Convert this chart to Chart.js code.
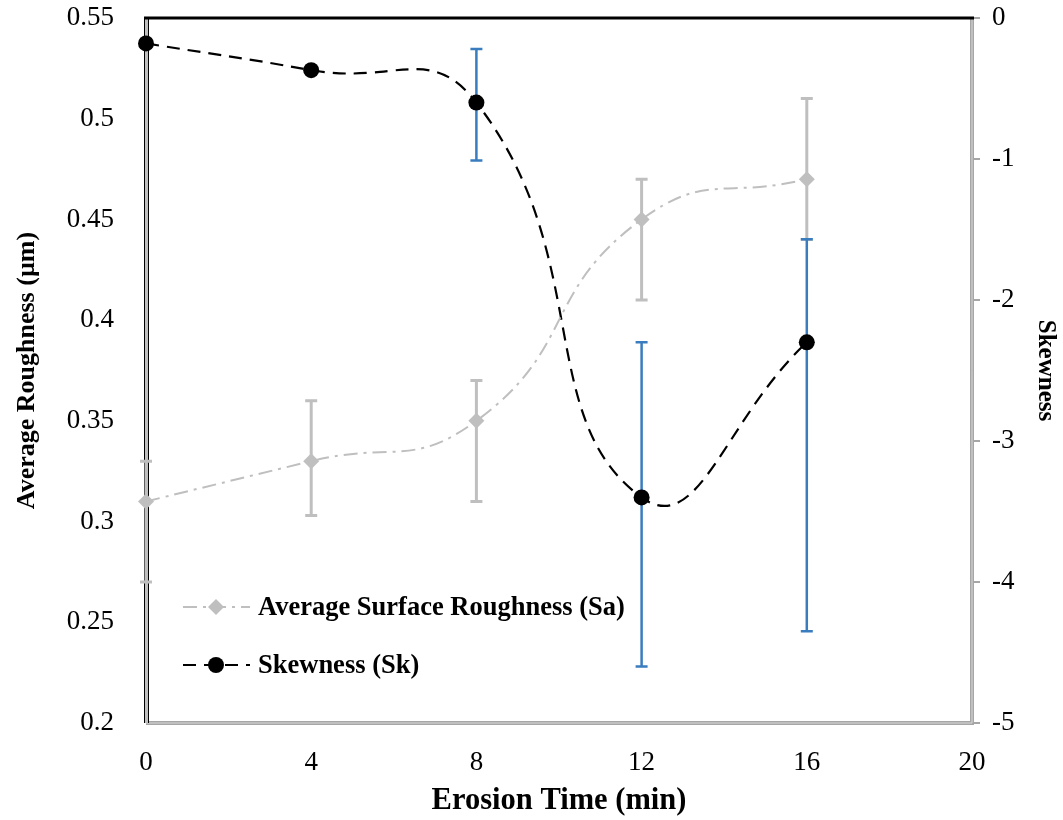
<!DOCTYPE html>
<html>
<head>
<meta charset="utf-8">
<script src="https://cdn.jsdelivr.net/npm/chart.js@4.4.1/dist/chart.umd.min.js"></script>
<style>
  html, body { margin: 0; padding: 0; background: #fff; }
</style>
</head>
<body>
<canvas id="roughChart" width="1063" height="820"></canvas>
<script>
'use strict'

// erosion time (min)
const times = [0, 4, 8, 12, 16];
// average surface roughness Sa (um) and the ends of its error bars
const roughness = [0.31, 0.33, 0.35, 0.45, 0.47];
const roughnessHigh = [0.33, 0.36, 0.37, 0.47, 0.51];
const roughnessLow = [0.27, 0.303, 0.31, 0.41, 0.44];
// skewness Sk and the ends of its error bars
const skewness = [-0.18, -0.37, -0.60, -3.40, -2.30];
const skewnessHigh = [-0.15, -0.35, -0.22, -2.30, -1.57];
const skewnessLow = [-0.21, -0.39, -1.01, -4.60, -4.35];
// tick labels
const timeTicks = [0, 4, 8, 12, 16, 20];
const roughTicks = [0.2, 0.25, 0.3, 0.35, 0.4, 0.45, 0.5, 0.55];
const skewTicks = [-5, -4, -3, -2, -1, 0];

const serif = "'Times New Roman', 'Liberation Serif', serif";
const grey = '#bfbfbf';
const blue = '#3a7dbf';
const saDash = [14, 6, 3, 6];
const skDash = [13, 8];

// axes frame drawn like the excel one
const frame = {
  id: 'frame',
  beforeDatasetsDraw(chart) {
    const {ctx, chartArea: a} = chart;
    ctx.save();
    ctx.lineWidth = 4;
    ctx.strokeStyle = '#a6a6a6';
    ctx.beginPath();
    ctx.moveTo(a.left, a.bottom);
    ctx.lineTo(a.right, a.bottom);
    ctx.lineTo(a.right, a.top);
    ctx.stroke();
    ctx.lineWidth = 1;
    ctx.strokeStyle = '#d9d9d9';
    ctx.beginPath();
    ctx.moveTo(a.left, a.bottom);
    ctx.lineTo(a.right, a.bottom);
    ctx.lineTo(a.right, a.top);
    ctx.stroke();
    // left axis: black edges with grey middle
    ctx.fillStyle = '#000';
    ctx.fillRect(a.left - 2, a.top, 5, a.bottom - a.top);
    ctx.fillStyle = '#bfbfbf';
    ctx.fillRect(a.left - 1, a.top, 3, a.bottom - a.top);
    // top edge
    ctx.lineWidth = 3;
    ctx.strokeStyle = '#000';
    ctx.beginPath();
    ctx.moveTo(a.left - 2, a.top);
    ctx.lineTo(a.right + 2, a.top);
    ctx.stroke();
    ctx.restore();
  }
};

const errorBars = {
  id: 'errorBars',
  beforeDatasetsDraw(chart) {
    const ctx = chart.ctx;
    const xs = chart.scales.x;
    const groups = [
      {scale: chart.scales.y, hi: roughnessHigh, lo: roughnessLow, color: grey, width: 3},
      {scale: chart.scales.y2, hi: skewnessHigh, lo: skewnessLow, color: blue, width: 2.5}
    ];
    ctx.save();
    groups.forEach(function(g) {
      ctx.strokeStyle = g.color;
      ctx.lineWidth = g.width;
      times.forEach(function(t, i) {
        const x = xs.getPixelForValue(t);
        const y1 = g.scale.getPixelForValue(g.hi[i]);
        const y2 = g.scale.getPixelForValue(g.lo[i]);
        ctx.beginPath();
        ctx.moveTo(x, y1); ctx.lineTo(x, y2);
        ctx.moveTo(x - 6, y1); ctx.lineTo(x + 6, y1);
        ctx.moveTo(x - 6, y2); ctx.lineTo(x + 6, y2);
        ctx.stroke();
      });
    });
    ctx.restore();
  }
};

// legend sits inside the plot, lower left
const insideLegend = {
  id: 'insideLegend',
  afterDraw(chart) {
    const ctx = chart.ctx;
    const items = chart.data.datasets;
    const rows = [607, 665];
    ctx.save();
    items.forEach(function(ds, i) {
      const y = rows[i];
      ctx.strokeStyle = ds.borderColor;
      ctx.lineWidth = ds.borderWidth;
      ctx.setLineDash(ds.borderDash);
      ctx.beginPath();
      ctx.moveTo(183, y); ctx.lineTo(250, y);
      ctx.stroke();
      ctx.setLineDash([]);
      ctx.fillStyle = ds.pointBackgroundColor;
      ctx.beginPath();
      if (ds.pointStyle === 'rectRot') {
        const r = ds.pointRadius;
        ctx.moveTo(216, y - r); ctx.lineTo(216 + r, y);
        ctx.lineTo(216, y + r); ctx.lineTo(216 - r, y);
        ctx.closePath();
      } else {
        ctx.arc(216, y, ds.pointRadius, 0, Math.PI * 2);
      }
      ctx.fill();
      ctx.fillStyle = '#000';
      ctx.font = 'bold 26.5px ' + serif;
      ctx.textBaseline = 'middle';
      ctx.fillText(ds.label, 258, y + 1);
    });
    ctx.restore();
  }
};

function noPad(s) {
  s.paddingTop = 0;
  s.paddingBottom = 0;
  s.paddingLeft = 0;
  s.paddingRight = 0;
}

const ctx = document.getElementById('roughChart').getContext('2d');
const roughChart = new Chart(ctx, {
  type: 'line',
  data: {
    datasets: [
      {
        label: 'Average Surface Roughness (Sa)',
        data: times.map(function(t, i) { return {x: t, y: roughness[i]}; }),
        yAxisID: 'y',
        borderColor: grey,
        borderWidth: 2,
        borderDash: saDash,
        pointStyle: 'rectRot',
        pointRadius: 8,
        pointBackgroundColor: grey,
        pointBorderWidth: 0,
        tension: 0.5,
        clip: false
      },
      {
        label: 'Skewness (Sk)',
        data: times.map(function(t, i) { return {x: t, y: skewness[i]}; }),
        yAxisID: 'y2',
        borderColor: '#000',
        borderWidth: 2.2,
        borderDash: skDash,
        pointStyle: 'circle',
        pointRadius: 8,
        pointBackgroundColor: '#000',
        pointBorderWidth: 0,
        tension: 0.5,
        clip: false
      }
    ]
  },
  options: {
    responsive: false,
    animation: false,
    layout: {
      padding: {top: 18, left: 0, right: 0, bottom: 0}
    },
    scales: {
      x: {
        type: 'linear',
        min: 0,
        max: 20,
        afterBuildTicks: function(s) { s.ticks = timeTicks.map(function(v) { return {value: v}; }); },
        afterFit: function(s) { s.height = 97; noPad(s); },
        grid: {display: false},
        border: {display: false},
        ticks: {color: '#000', padding: 16, font: {family: serif, size: 27}},
        title: {
          display: true,
          text: 'Erosion Time (min)',
          color: '#000',
          padding: {top: 0, bottom: 1},
          font: {family: serif, size: 30.5, weight: 'bold'}
        }
      },
      y: {
        position: 'left',
        min: 0.2,
        max: 0.55,
        afterBuildTicks: function(s) { s.ticks = roughTicks.map(function(v) { return {value: v}; }); },
        afterFit: function(s) { s.width = 146; noPad(s); },
        grid: {display: false},
        border: {display: false},
        ticks: {
          color: '#000',
          padding: 24,
          font: {family: serif, size: 27},
          callback: function(v) { return String(+v.toFixed(2)); }
        },
        title: {
          display: true,
          text: 'Average Roughness (µm)',
          color: '#000',
          padding: {top: 12, bottom: 0},
          font: {family: serif, size: 26, weight: 'bold'}
        }
      },
      y2: {
        position: 'right',
        min: -5,
        max: 0,
        afterBuildTicks: function(s) { s.ticks = skewTicks.map(function(v) { return {value: v}; }); },
        afterFit: function(s) { s.width = 91; noPad(s); },
        grid: {drawOnChartArea: false, drawTicks: true, tickLength: 8, color: '#a6a6a6', lineWidth: 2},
        border: {display: false},
        ticks: {color: '#000', padding: 12, font: {family: serif, size: 27}},
        title: {
          display: true,
          text: 'Skewness',
          color: '#000',
          padding: {top: 3, bottom: 0},
          font: {family: serif, size: 25, weight: 'bold'}
        }
      }
    },
    plugins: {
      legend: {display: false},
      tooltip: {enabled: false}
    }
  },
  plugins: [frame, errorBars, insideLegend]
});
</script>
</body>
</html>
